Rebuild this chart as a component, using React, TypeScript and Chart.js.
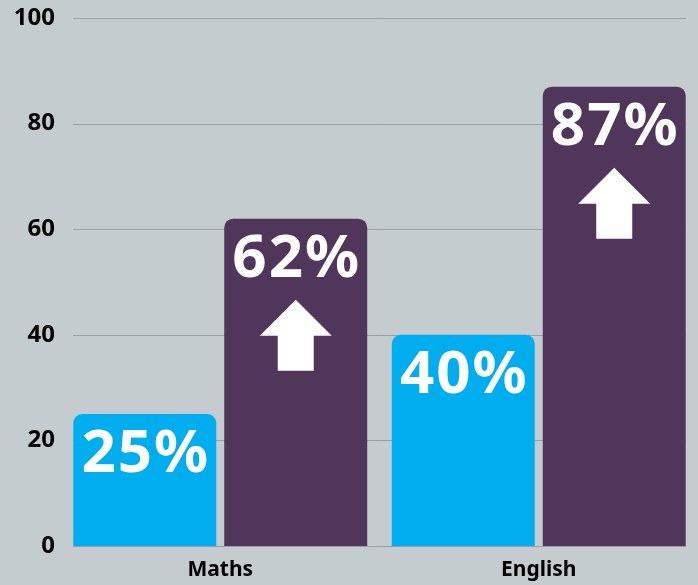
import React, { useEffect, useRef } from "react";
import { Chart, registerables } from "chart.js";

Chart.register(...registerables);

const categories = ["Maths", "English"];
const beforeValues = [25, 40];
const afterValues = [62, 87];
const yTicks = [0, 20, 40, 60, 80, 100];

const BG = "#c5cccf";
const CYAN = "#00adef";
const PURPLE = "#50365a";
const GRID = "#9aa0a3";
const FONT = "'Noto Sans', 'Open Sans', sans-serif";

const gridPlugin = {
  id: "insetGrid",
  beforeDatasetsDraw(chart: any) {
    const ctx = chart.ctx;
    const y = chart.scales.y;
    const { left, right } = chart.chartArea;
    ctx.save();
    ctx.strokeStyle = GRID;
    ctx.lineWidth = 1;
    yTicks.forEach((v) => {
      const py = Math.round(y.getPixelForValue(v)) + 0.5;
      ctx.beginPath();
      ctx.moveTo(left + 12, py);
      ctx.lineTo(right - 12, py);
      ctx.stroke();
    });
    ctx.restore();
  },
};

const barLabelPlugin = {
  id: "barLabels",
  afterDatasetsDraw(chart: any) {
    const ctx = chart.ctx;
    ctx.save();
    chart.data.datasets.forEach((ds: any, di: number) => {
      const meta = chart.getDatasetMeta(di);
      meta.data.forEach((bar: any, i: number) => {
        const v = ds.data[i];
        ctx.fillStyle = "#ffffff";
        ctx.font = `bold 60px ${FONT}`;
        (ctx as any).letterSpacing = "2px";
        ctx.textAlign = "center";
        ctx.textBaseline = "alphabetic";
        ctx.fillText(v + "%", bar.x + 1, bar.y + 58);
        (ctx as any).letterSpacing = "0px";
        if (ds.arrow) {
          const cx = bar.x;
          const tip = bar.y + 81;
          const base = bar.y + 117;
          const bottom = bar.y + 152;
          ctx.beginPath();
          ctx.moveTo(cx, tip);
          ctx.lineTo(cx + 36, base);
          ctx.lineTo(cx + 18, base);
          ctx.lineTo(cx + 18, bottom);
          ctx.lineTo(cx - 18, bottom);
          ctx.lineTo(cx - 18, base);
          ctx.lineTo(cx - 36, base);
          ctx.closePath();
          ctx.fill();
        }
      });
    });
    ctx.restore();
  },
};

export default function App() {
  const ref = useRef<HTMLCanvasElement>(null);
  useEffect(() => {
    document.body.style.margin = "0";
    const chart = new Chart(ref.current!, {
      type: "bar",
      data: {
        labels: categories,
        datasets: [
          {
            data: beforeValues,
            backgroundColor: CYAN,
            borderRadius: { topLeft: 9, topRight: 9, bottomLeft: 0, bottomRight: 0 },
            borderSkipped: "bottom",
          } as any,
          {
            data: afterValues,
            backgroundColor: PURPLE,
            borderRadius: { topLeft: 9, topRight: 9, bottomLeft: 0, bottomRight: 0 },
            borderSkipped: "bottom",
            arrow: true,
          } as any,
        ],
      },
      options: {
        animation: false,
        responsive: false,
        maintainAspectRatio: false,
        datasets: { bar: { categoryPercentage: 0.948, barPercentage: 0.947 } },
        layout: { padding: { left: 0, right: 0, top: 18, bottom: 0 } },
        plugins: { legend: { display: false }, tooltip: { enabled: false } },
        scales: {
          x: {
            grid: { display: false, drawTicks: false },
            border: { display: false },
            afterFit: (axis: any) => {
              axis.height = 39;
              axis.paddingLeft = 0;
              axis.paddingRight = 0;
            },
            ticks: {
              color: "#000",
              padding: 11,
              font: { family: FONT, size: 21, weight: "bold" },
            },
          },
          y: {
            min: 0,
            max: 100,
            afterBuildTicks: (axis: any) => {
              axis.ticks = yTicks.map((v) => ({ value: v }));
            },
            afterFit: (axis: any) => {
              axis.width = 61;
              axis.paddingTop = 0;
              axis.paddingBottom = 0;
            },
            grid: { display: false, drawTicks: false },
            border: { display: false },
            ticks: {
              color: "#000",
              padding: 6,
              font: { family: FONT, size: 24, weight: "bold" },
            },
          },
        },
      },
      plugins: [gridPlugin, barLabelPlugin],
    });
    return () => chart.destroy();
  }, []);
  return (
    <div style={{ position: "fixed", left: 0, top: 0, width: 698, height: 585, background: BG }}>
      <canvas ref={ref} width={698} height={585} style={{ display: "block" }} />
    </div>
  );
}
